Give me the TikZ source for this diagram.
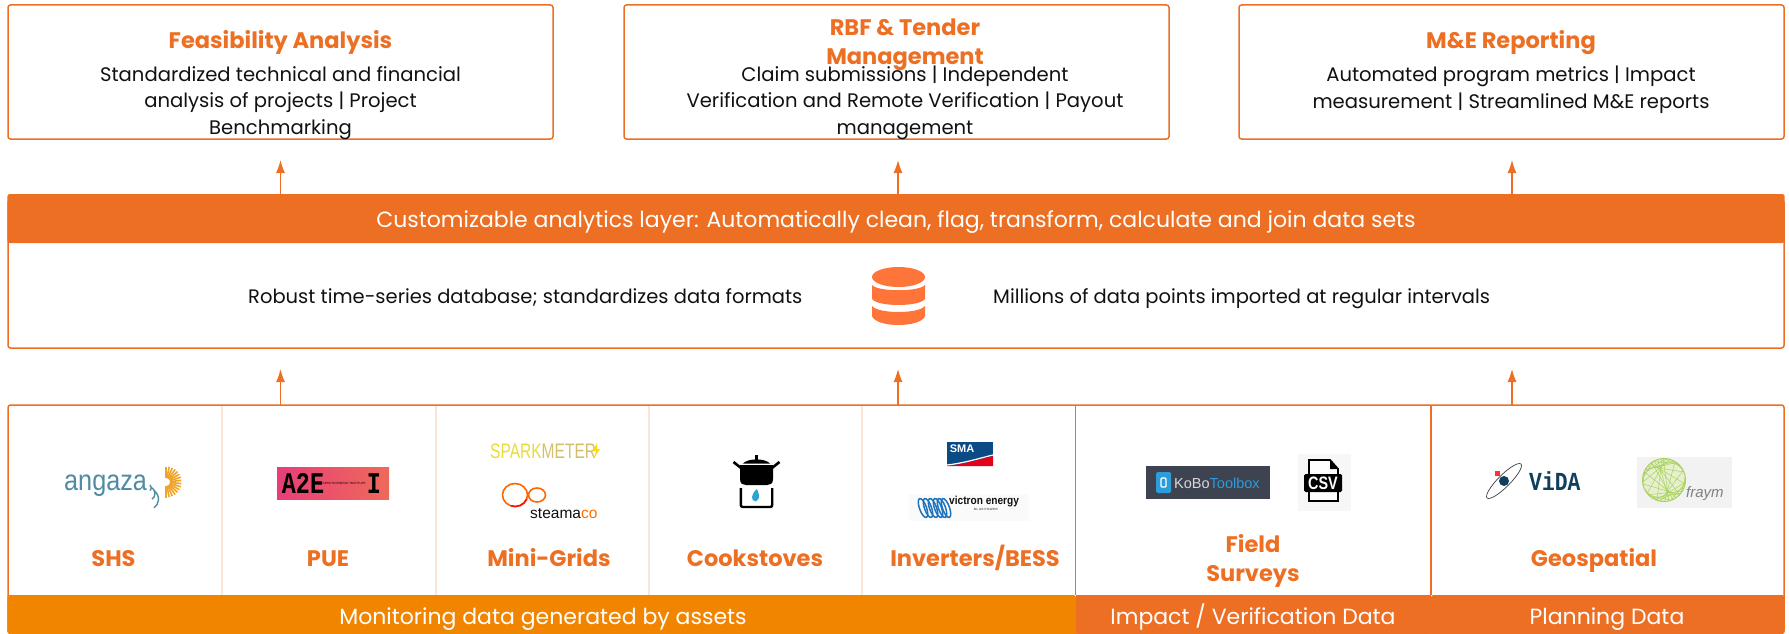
\documentclass[tikz,border=0pt]{standalone}
\usepackage{fontspec}
\setmainfont{Poppins}
\newfontfamily\monofam{Liberation Mono}
\newfontfamily\sansfam{Liberation Sans}
\usetikzlibrary{arrows.meta}
\definecolor{brand}{HTML}{ED6F23}
\definecolor{amberbar}{HTML}{F28500}
\definecolor{sep}{HTML}{FBE6D3}
\definecolor{dbicon}{HTML}{FF7438}
\definecolor{ink}{HTML}{111111}
\definecolor{angblue}{HTML}{4F8CA3}
\definecolor{angsun}{HTML}{F0A52A}
\definecolor{a2epink}{HTML}{E83E78}
\definecolor{a2ecoral}{HTML}{EE6A5A}
\definecolor{smablue}{HTML}{0A4A85}
\definecolor{smared}{HTML}{E2001A}
\definecolor{vicblue}{HTML}{1E73BE}
\definecolor{koboslate}{HTML}{3E4352}
\definecolor{koboblue}{HTML}{2D9CDB}
\definecolor{vidanavy}{HTML}{0F3F5C}
\definecolor{frayfill}{HTML}{E6F0CF}
\definecolor{frayline}{HTML}{A9D15F}
\definecolor{flame}{HTML}{2CA5CF}
\tikzset{
  x=1pt,y=-1pt,
  card/.style={draw=brand,line width=1.5pt,rounded corners=2.5pt,fill=white},
  bartext/.style={text=white,anchor=base,inner sep=0pt,font=\fontsize{22}{26}\selectfont},
  cardtitle/.style={text=brand,anchor=base,font=\fontsize{22.5}{29}\selectfont\bfseries,align=center,inner sep=0pt},
  cardbody/.style={text=ink,anchor=base,font=\fontsize{19.6}{26.2}\selectfont,align=center,inner sep=0pt},
  rowtext/.style={text=ink,font=\fontsize{19.5}{24}\selectfont,inner sep=0pt,anchor=base west},
  collabel/.style={text=brand,anchor=base,font=\fontsize{22.5}{29}\selectfont\bfseries,align=center,inner sep=0pt},
  flow/.style={draw=brand,line width=1.2pt,-{Latex[length=13pt,width=9pt]}},
  colsep/.style={draw=sep,line width=1.3pt},
  groupsep/.style={draw=brand,line width=1.5pt},
}
\begin{document}
\begin{tikzpicture}
\useasboundingbox (0,0) rectangle (1789,634);
% top cards
\draw[card] (8,5) rectangle (553,139);
\draw[card] (624,5) rectangle (1169,139);
\draw[card] (1239,5) rectangle (1784,139);
\node[cardtitle] (t1) at (280.5,49) {Feasibility Analysis};
\node[cardbody] (b1) at (280.5,134) {Standardized technical and financial\\analysis of projects | Project\\Benchmarking};
\node[cardtitle] (t2) at (905,65) {RBF \& Tender\\Management};
\node[cardbody] (b2) at (905,134) {Claim submissions | Independent\\Verification and Remote Verification | Payout\\management};
\node[cardtitle] (t3) at (1511,49) {M\&E Reporting};
\node[cardbody] (b3) at (1511,108) {Automated program metrics | Impact\\measurement | Streamlined M\&E reports};
% middle
\draw[draw=brand,line width=1.5pt,rounded corners=2.5pt,fill=white] (8,200) rectangle (1784,348);
\fill[brand,rounded corners=2.5pt] (7.3,194) rectangle (1784.7,243);
\node[bartext] (bar) at (896,227) {Customizable analytics layer: Automatically clean, flag, transform, calculate and join data sets};
\node[rowtext] (r1) at (248,303) {Robust time-series database; standardizes data formats};
\node[rowtext] (r2) at (993,303) {Millions of data points imported at regular intervals};
% database icon
\begin{scope}
\fill[dbicon] (872,277) arc[start angle=180,end angle=0,x radius=26.5,y radius=10] arc[start angle=0,end angle=-180,x radius=26.5,y radius=10] -- cycle;
\fill[dbicon] (872,285) .. controls (878,292) and (919,292) .. (925,285) -- (925,299) .. controls (919,307) and (878,307) .. (872,299) -- cycle;
\fill[dbicon] (872,306) .. controls (878,314) and (919,314) .. (925,306) -- (925,316) .. controls (921,328) and (876,328) .. (872,316) -- cycle;
\end{scope}
% lower card
\draw[card] (8,405) rectangle (1784,633);
\foreach \sx in {222,436,649,862}{\draw[colsep] (\sx,406) -- (\sx,595);}
\draw[groupsep] (1075.5,405) -- (1075.5,595);
\draw[groupsep] (1431,405) -- (1431,595);
\fill[amberbar,rounded corners=2.5pt] (7.3,595) -- (7.3,634) -- (1076,634) -- (1076,595) -- cycle;
\fill[brand] (1076,595) rectangle (1431,634);
\fill[brand,rounded corners=2.5pt] (1431,595) -- (1431,634) -- (1784.7,634) -- (1784.7,595) -- cycle;
\node[bartext] (mon) at (543,624) {Monitoring data generated by assets};
\node[bartext] (imp) at (1253,624) {Impact / Verification Data};
\node[bartext] (pla) at (1607,624) {Planning Data};
% column labels
\node[collabel] (c1) at (113.5,566) {SHS};
\node[collabel] (c2) at (328,566) {PUE};
\node[collabel] (c3) at (549,566) {Mini-Grids};
\node[collabel] (c4) at (755,566) {Cookstoves};
\node[collabel] (c5) at (975,566) {Inverters/BESS};
\node[collabel] (c6) at (1253,581) {Field\\Surveys};
\node[collabel] (c7) at (1594,566) {Geospatial};
% connectors
\coordinate (u1) at (280.5,160); \coordinate (u2) at (898,160); \coordinate (u3) at (1512,160);
\coordinate (d1) at (280.5,369); \coordinate (d2) at (898,369); \coordinate (d3) at (1512,369);
\coordinate (barTop) at (896,194); \coordinate (lowTop) at (896,405);
\foreach \n in {1,2,3}{
  \draw[flow] (barTop -| u\n) -- (u\n);
  \draw[flow] (lowTop -| d\n) -- (d\n);
}
% angaza
\node[text=angblue,inner sep=0pt,anchor=base west,font=\sansfam\fontsize{29}{30}\selectfont] (angaza) at (64,490) {\scalebox{.87}[1]{angaza}};
\foreach \rr in {3.5,7,10.5}{\draw[angblue,line width=1.4pt] ([shift={(55:\rr)}]148,482) arc[start angle=-55,end angle=55,radius=\rr];}
\foreach \aa in {-90,-78,...,90}{\draw[draw=angsun,line width=1.6pt] ([shift={(\aa:4)}]166,482) -- ([shift={(\aa:15.5)}]166,482);}
% A2E
\shade[left color=a2epink,right color=a2ecoral] (277,467) rectangle (389,499);
\node[font=\monofam\fontsize{30}{30}\selectfont\bfseries,inner sep=0pt,text=black,anchor=base] (a2e) at (303,493) {\scalebox{.78}[1]{A2E}};
\node[font=\monofam\fontsize{30}{30}\selectfont\bfseries,inner sep=0pt,text=black,anchor=base] (a2ei) at (374,493) {\scalebox{.78}[1]{I}};
\node[font=\sansfam\fontsize{3}{3}\selectfont,inner sep=0pt,text=black] (a2ef) at (342,483.5) {ACCESS TO ENERGY INSTITUTE};
% sparkmeter
\node[anchor=base west,inner sep=0pt,font=\sansfam\fontsize{21}{22}\selectfont] (spark) at (490,458) {\scalebox{.74}[1]{\textcolor[HTML]{E9DC3C}{SPARK}\textcolor[HTML]{D6BF6A}{METER}}};
\fill[yellow!80!orange] (597,443) -- (593,451) -- (596,451) -- (594,458) -- (600,449) -- (597,449) -- cycle;
% steamaco
\draw[draw=orange!80!red,line width=1.6pt] (515,495) ellipse[x radius=12.5,y radius=11.5];
\draw[draw=orange!80!red,line width=1.6pt] (537,495) ellipse[x radius=8.5,y radius=7];
\draw[draw=red!85!orange,line width=1.6pt] ([shift={(20:12.5 and 11.5)}]515,495) arc[start angle=20,end angle=110,x radius=12.5,y radius=11.5];
\node[anchor=base west,inner sep=0pt,font=\sansfam\fontsize{15.5}{16}\selectfont] (steama) at (530,518) {\textcolor{ink}{steama}\textcolor{orange!85!red}{co}};
% cookstove
\fill[black] (740,465) -- (773,465) -- (773,479) .. controls (773,484) and (770,485) .. (767,485) -- (746,485) .. controls (743,485) and (740,484) .. (740,479) -- cycle;
\fill[black] (743,463.5) .. controls (748,458) and (765,458) .. (770,463.5) -- cycle;
\fill[black] (754.8,455) rectangle (758,460);
\draw[black,line width=2.6pt] (733.5,462) -- (741,468);
\draw[black,line width=2.6pt] (779.5,462) -- (772,468);
\draw[black,line width=2.4pt,rounded corners=2pt] (740.8,488) -- (740.8,507) -- (772.2,507) -- (772.2,488);
\fill[flame] (757,489) .. controls (758,494) and (762,496) .. (756,501.5) .. controls (750,501) and (751,494) .. (757,489) -- cycle;
% SMA
\fill[smablue] (947,442) rectangle (993,466);
\fill[smared] (947,466) .. controls (965,464) and (980,459) .. (993,456) -- (993,466) -- cycle;
\draw[white,line width=1.2pt] (947,465) .. controls (965,463) and (980,458) .. (993,455);
\node[text=white,font=\sansfam\bfseries\fontsize{11}{12}\selectfont,inner sep=0pt] (sma) at (962,449) {SMA};
% victron
\fill[black!2] (909,494) rectangle (1029,521);
\foreach \cx in {923,928,933,938,942,946}{\draw[draw=vicblue,line width=1.5pt,rotate around={20:(\cx,508)}] (\cx,508) ellipse[x radius=3.5,y radius=10];}
\node[anchor=west,inner sep=0pt,font=\sansfam\bfseries\fontsize{11.5}{12}\selectfont,text=ink] (vic) at (949,502) {\scalebox{.88}[1]{victron energy}};
\node[inner sep=0pt,font=\sansfam\fontsize{3}{4}\selectfont,text=ink] (vicb) at (986,509.5) {B\,L\,U\,E\,\,P\,O\,W\,E\,R};
% KoBo
\fill[koboslate] (1146,466) rectangle (1270,499);
\fill[koboblue,rounded corners=1.5pt] (1156,472) rectangle (1171,493);
\draw[white,line width=1.4pt,rounded corners=1pt] (1161,478) rectangle (1166,487);
\node[anchor=west,inner sep=0pt,font=\sansfam\fontsize{14.5}{15}\selectfont] (kobo) at (1174,483) {\textcolor{white!85!black}{KoBo}\textcolor{koboblue}{Toolbox}};
% CSV
\fill[black!3] (1298,454) rectangle (1351,511);
\draw[black,line width=1.8pt,fill=white] (1309,460) -- (1330,460) -- (1338,469) -- (1338,501) -- (1309,501) -- cycle;
\fill[black] (1330,460) -- (1338,469) -- (1330,469) -- cycle;
\fill[black,rounded corners=1.5pt] (1304,474) rectangle (1342,492);
\node[text=white,font=\sansfam\bfseries\fontsize{18}{19}\selectfont,inner sep=0pt] (csv) at (1323,483) {\scalebox{.8}[1]{CSV}};
% ViDA
\draw[black!75,line width=0.7pt,rotate around={45:(1504,481)}] (1504,481) ellipse[x radius=24,y radius=6];
\fill[vidanavy] (1504,481) circle[radius=5];
\fill[red!80!white] (1494.5,470.5) rectangle (1500,476);
\node[anchor=base west,inner sep=0pt,text=vidanavy,font=\monofam\bfseries\fontsize{26}{27}\selectfont] (vida) at (1529,490) {\scalebox{.82}[1]{ViDA}};
% fraym
\fill[black!5] (1637,457) rectangle (1732,508);
\fill[frayfill] (1664,480) circle[radius=21.5];
\begin{scope}
\clip (1664,480) circle[radius=21.5];
\foreach \aa in {0,11,...,360}{\draw[draw=frayline,line width=0.5pt] ([shift={(\aa:21)}]1664,480) -- ([shift={(\aa*3+37:21)}]1664,480);}
\end{scope}
\draw[draw=frayline,line width=1pt] (1664,480) circle[radius=21.5];
\node[anchor=base west,inner sep=0pt,text=black!50,font=\sansfam\itshape\fontsize{15}{16}\selectfont] (fraym) at (1686,497) {fraym};
\end{tikzpicture}
\end{document}
